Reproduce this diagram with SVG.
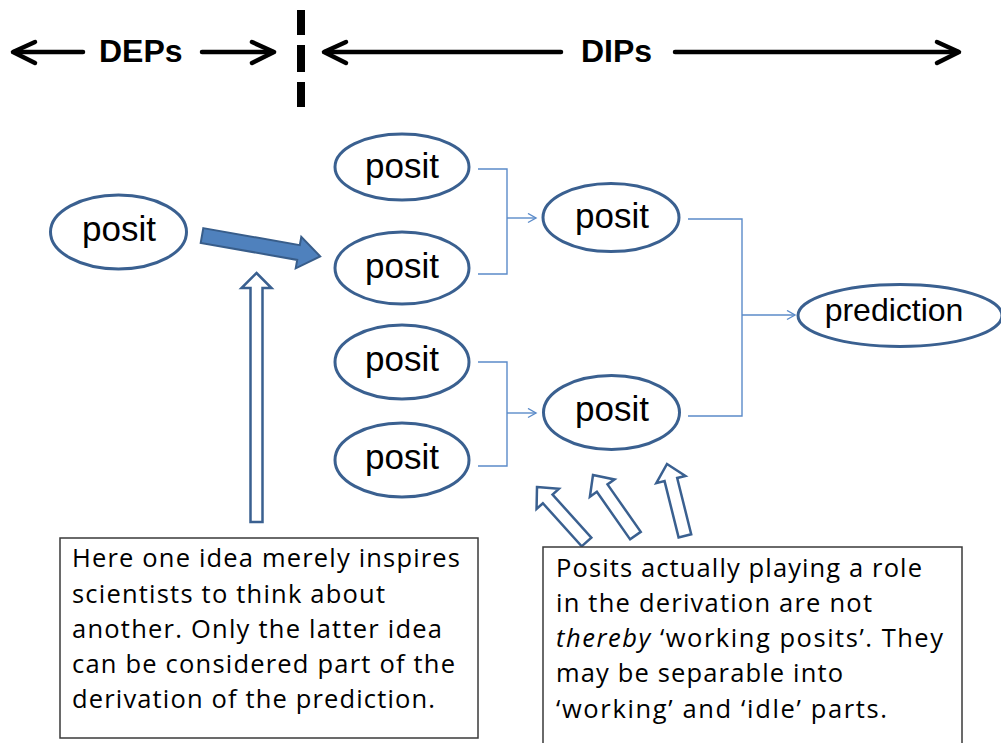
<svg xmlns="http://www.w3.org/2000/svg" width="1001" height="743" viewBox="0 0 1001 743">
<style>
.bg{fill:#ffffff}
.node ellipse{fill:#ffffff;stroke:#3A6090;stroke-width:3}
.lbl{font-family:"Liberation Sans",Arial,sans-serif;font-size:35px;fill:#000;text-anchor:middle}
.hdr{font-family:"Liberation Sans",Arial,sans-serif;font-size:32px;font-weight:bold;fill:#000}
.blk{stroke:#000;stroke-width:4.5;fill:none;stroke-linecap:round;stroke-linejoin:round}
.conn{stroke:#5B8BC9;stroke-width:1.4;fill:none}
.hollow{fill:#ffffff;stroke:#3A6090;stroke-width:2.5;stroke-linejoin:miter}
.box{fill:#ffffff;stroke:#3a3a3a;stroke-width:1.5}
.txt{font-family:"Open Sans","Liberation Sans",Arial,sans-serif;font-size:25.5px;fill:#000}
</style>
<defs>
<marker id="open" markerWidth="12" markerHeight="12" refX="9" refY="5" orient="auto" markerUnits="userSpaceOnUse">
<path d="M1,0.5 L9,5 L1,9.5" fill="none" stroke="#5B8BC9" stroke-width="1.4"/>
</marker>
<path id="harrow" d="M0,0 L15,16 L6.5,16 L6.5,74 L-6.5,74 L-6.5,16 L-15,16 Z"/>
</defs>
<rect class="bg" x="0" y="0" width="1001" height="743"/>

<g id="header">
<line class="blk" x1="14" y1="52" x2="83" y2="52"/>
<polyline class="blk" points="35,42 13,52 35,63"/>
<text class="hdr" x="99" y="62">DEPs</text>
<line class="blk" x1="202" y1="52" x2="273" y2="52"/>
<polyline class="blk" points="252,42 274,52 252,63"/>
<g fill="#000">
<rect x="297" y="10" width="8" height="25"/>
<rect x="297" y="45" width="8" height="27"/>
<rect x="297" y="82" width="8" height="25"/>
</g>
<line class="blk" x1="325" y1="52" x2="561" y2="52"/>
<polyline class="blk" points="346,42 324,52 346,63"/>
<text class="hdr" x="581" y="62">DIPs</text>
<line class="blk" x1="675" y1="52" x2="958" y2="52"/>
<polyline class="blk" points="937,42 959,52 937,63"/>
</g>

<g id="connectors">
<polyline class="conn" points="478,169 507,169 507,274 478,274"/>
<line class="conn" x1="507" y1="218" x2="536" y2="218" marker-end="url(#open)"/>
<polyline class="conn" points="478,362 507,362 507,466 478,466"/>
<line class="conn" x1="507" y1="413" x2="536" y2="413" marker-end="url(#open)"/>
<polyline class="conn" points="688,219 742,219 742,416 688,416"/>
<line class="conn" x1="742" y1="315" x2="795" y2="315" marker-end="url(#open)"/>
<g id="block-arrow" transform="translate(202,235.5) rotate(10)">
<polygon points="0,-7.5 98,-7.5 98,-16 120,0 98,16 98,7.5 0,7.5" fill="#4F81BD" stroke="#385D8A" stroke-width="2"/>
</g>
<polygon class="hollow" points="256.5,273 271.5,288 262.5,288 262.5,522 250.5,522 250.5,288 241.5,288"/>
<use href="#harrow" class="hollow" transform="translate(537,487) rotate(-42)"/>
<use href="#harrow" class="hollow" transform="translate(593,475) rotate(-35)"/>
<use href="#harrow" class="hollow" transform="translate(667,464) rotate(-14)"/>
</g>

<g id="n-posit-left" class="node"><ellipse cx="118.5" cy="232" rx="68" ry="37"/><text class="lbl" x="119" y="241">posit</text></g>
<g id="n-posit-1" class="node"><ellipse cx="402" cy="167" rx="67" ry="33"/><text class="lbl" x="402" y="178">posit</text></g>
<g id="n-posit-2" class="node"><ellipse cx="402" cy="268" rx="67" ry="36"/><text class="lbl" x="402" y="278">posit</text></g>
<g id="n-posit-3" class="node"><ellipse cx="402" cy="362" rx="67" ry="37"/><text class="lbl" x="402" y="371">posit</text></g>
<g id="n-posit-4" class="node"><ellipse cx="402" cy="460" rx="67" ry="37"/><text class="lbl" x="402" y="469">posit</text></g>
<g id="n-posit-mid1" class="node"><ellipse cx="611" cy="217.5" rx="68" ry="34"/><text class="lbl" x="612" y="228">posit</text></g>
<g id="n-posit-mid2" class="node"><ellipse cx="611.5" cy="412.5" rx="68" ry="37"/><text class="lbl" x="612" y="421">posit</text></g>
<g id="n-prediction" class="node"><ellipse cx="900" cy="315.5" rx="102" ry="31"/><text class="lbl" x="894" y="321" style="font-size:32px">prediction</text></g>

<g id="note-left">
<rect class="box" x="60" y="538" width="418" height="200"/>
<text class="txt" x="72" y="567" textLength="388" lengthAdjust="spacing">Here one idea merely inspires</text>
<text class="txt" x="72" y="603" textLength="313" lengthAdjust="spacing">scientists to think about</text>
<text class="txt" x="72" y="638" textLength="370" lengthAdjust="spacing">another. Only the latter idea</text>
<text class="txt" x="72" y="673" textLength="383" lengthAdjust="spacing">can be considered part of the</text>
<text class="txt" x="72" y="708" textLength="363" lengthAdjust="spacing">derivation of the prediction.</text>
</g>

<g id="note-right">
<rect class="box" x="543" y="547" width="419" height="210"/>
<text class="txt" x="556" y="577" textLength="366" lengthAdjust="spacing">Posits actually playing a role</text>
<text class="txt" x="556" y="612" textLength="316" lengthAdjust="spacing">in the derivation are not</text>
<text class="txt" x="556" y="647" textLength="387" lengthAdjust="spacing"><tspan font-style="italic">thereby</tspan> ‘working posits’. They</text>
<text class="txt" x="556" y="682" textLength="287" lengthAdjust="spacing">may be separable into</text>
<text class="txt" x="556" y="718" textLength="331" lengthAdjust="spacing">‘working’ and ‘idle’ parts.</text>
</g>
</svg>
